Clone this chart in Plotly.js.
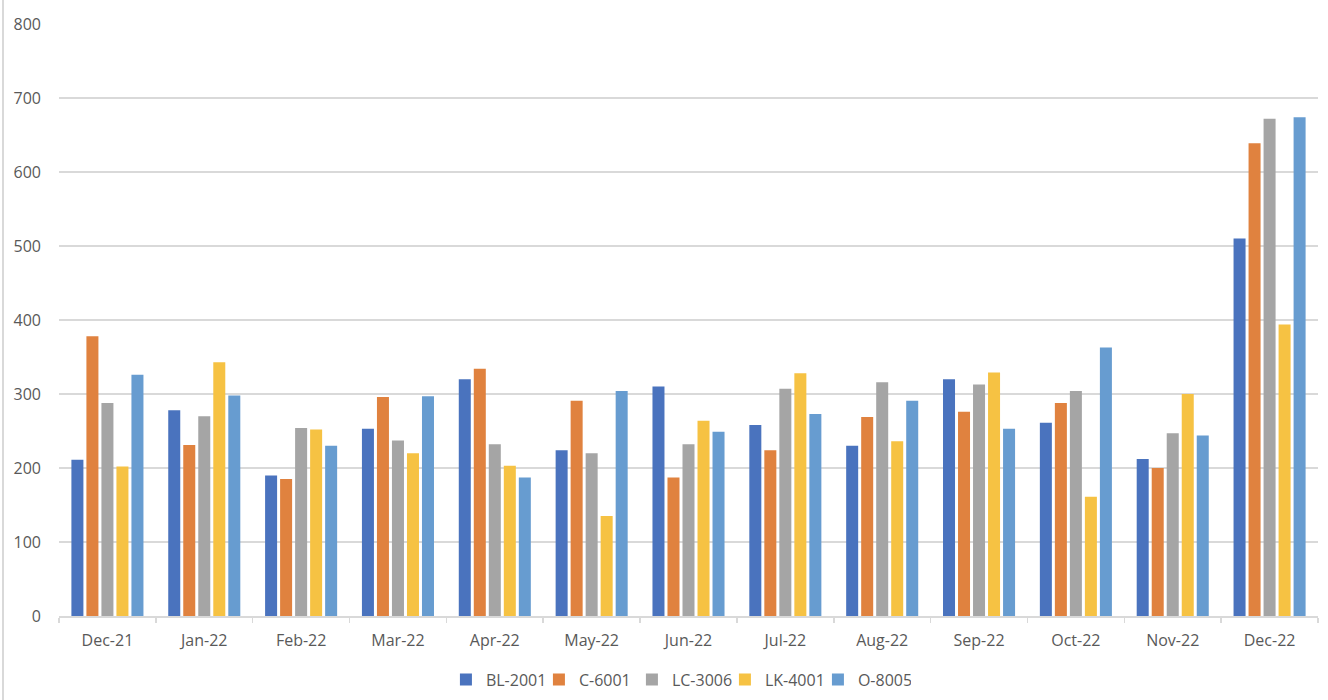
<!DOCTYPE html>
<html>
<head>
<meta charset="utf-8">
<script src="https://cdn.plot.ly/plotly-3.0.1.min.js"></script>
<style>
  html, body { margin: 0; padding: 0; background: #ffffff; }
  #chart { width: 1328px; height: 700px; }
</style>
</head>
<body>
<div id="chart"></div>
<script>
const categories = ["Dec-21","Jan-22","Feb-22","Mar-22","Apr-22","May-22","Jun-22","Jul-22","Aug-22","Sep-22","Oct-22","Nov-22","Dec-22"];

const bl2001 = [211, 278, 190, 253, 320, 224, 310, 258, 230, 320, 261, 212, 510];
const c6001  = [378, 231, 185, 296, 334, 291, 187, 224, 269, 276, 288, 200, 639];
const lc3006 = [288, 270, 254, 237, 232, 220, 232, 307, 316, 313, 304, 247, 672];
const lk4001 = [202, 343, 252, 220, 203, 135, 264, 328, 236, 329, 161, 300, 394];
const o8005  = [326, 298, 230, 297, 187, 304, 249, 273, 291, 253, 363, 244, 674];

const seriesNames = ["BL-2001", "C-6001", "LC-3006", "LK-4001", "O-8005"];
const seriesValues = [bl2001, c6001, lc3006, lk4001, o8005];
const seriesColors = ["#4A73BE", "#E0823F", "#A5A5A5", "#F6C243", "#679CD0"];

const yTickValues = [0, 100, 200, 300, 400, 500, 600, 700, 800];

const traces = seriesNames.map((name, i) => ({
  type: "bar",
  name: name,
  x: categories,
  y: seriesValues[i],
  marker: { color: seriesColors[i], line: { width: 0 } },
  hoverinfo: "x+y+name"
}));

const layout = {
  width: 1328,
  height: 700,
  margin: { l: 59, r: 10, t: 24, b: 84, autoexpand: false },
  paper_bgcolor: "#ffffff",
  plot_bgcolor: "#ffffff",
  barmode: "group",
  bargap: 0.225,
  bargroupgap: 0.2,
  font: { family: "Open Sans, Liberation Sans, sans-serif", size: 16, color: "#595959" },
  xaxis: {
    type: "category",
    showline: true,
    linecolor: "#d9d9d9",
    linewidth: 1.5,
    ticks: "outside",
    tickson: "boundaries",
    ticklen: 5,
    tickcolor: "#d9d9d9",
    tickwidth: 1.5,
    showgrid: false,
    ticklabelstandoff: 9,
    tickfont: { size: 16, color: "#595959" },
    automargin: false,
    fixedrange: true
  },
  yaxis: {
    range: [0, 800],
    tickvals: yTickValues,
    ticktext: yTickValues.map(String),
    showgrid: true,
    gridcolor: "#d9d9d9",
    gridwidth: 1.5,
    zeroline: false,
    showline: false,
    ticks: "",
    ticklabelstandoff: 17,
    tickfont: { size: 16, color: "#595959" },
    automargin: false,
    fixedrange: true
  },
  showlegend: true,
  legend: {
    orientation: "h",
    x: 0.492,
    xanchor: "center",
    yref: "container",
    y: 0.029,
    yanchor: "middle",
    font: { size: 16, color: "#595959" },
    itemwidth: 30,
    entrywidthmode: "pixels",
    entrywidth: 48,
    itemclick: false,
    itemdoubleclick: false,
    traceorder: "normal"
  },
  shapes: [
    {
      type: "line",
      xref: "paper",
      yref: "paper",
      x0: -56 / 1259,
      x1: -56 / 1259,
      y0: -84 / 592,
      y1: 1 + 24 / 592,
      line: { color: "#d9d9d9", width: 2 }
    }
  ]
};

Plotly.newPlot("chart", traces, layout, { displayModeBar: false, staticPlot: true });
</script>
</body>
</html>
